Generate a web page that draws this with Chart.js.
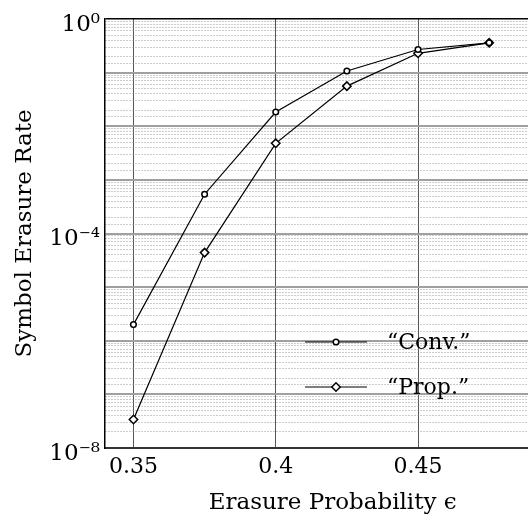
<!DOCTYPE html>
<html>
<head>
<meta charset="utf-8">
<script src="https://cdn.jsdelivr.net/npm/chart.js@4.4.1/dist/chart.umd.min.js"></script>
<style>
    html, body { margin: 0; padding: 0; background: #fff; overflow: hidden; }
    #wrap { width: 566px; height: 517px; }
</style>
</head>
<body>
<div id="wrap"><canvas id="plot"></canvas></div>
<script>
// Erasure probability (x) and symbol erasure rate for the two schemes
const epsilon = [0.35, 0.375, 0.4, 0.425, 0.45, 0.475];
const convRate = [2.0e-6, 5.4e-4, 1.84e-2, 0.107, 0.27, 0.36];
const propRate = [3.4e-8, 4.4e-5, 4.8e-3, 0.056, 0.229, 0.36];
const xTicks = [0.35, 0.4, 0.45];
const yLabelExps = [0, -4, -8];

const FONT = "'DejaVu Serif', serif";
const SUP = { '0': '\u2070', '4': '\u2074', '8': '\u2078', '-': '\u207B' };

function decadeExp(v) {
    const e = Math.log10(v);
    const r = Math.round(e);
    return Math.abs(e - r) < 1e-6 ? r : null;
}

// draws the in-plot legend (lower right) from the dataset styles
const insideLegend = {
    id: 'insideLegend',
    afterDatasetsDraw(chart) {
        const ctx = chart.ctx;
        const rows = [{ ds: chart.data.datasets[0], y: 342 }, { ds: chart.data.datasets[1], y: 387 }];
        ctx.save();
        rows.forEach(({ ds, y }) => {
            ctx.strokeStyle = ds.borderColor;
            ctx.lineWidth = ds.borderWidth;
            ctx.setLineDash([]);
            ctx.beginPath();
            ctx.moveTo(305, y);
            ctx.lineTo(367, y);
            ctx.stroke();
            ctx.fillStyle = ds.pointBackgroundColor;
            ctx.strokeStyle = ds.pointBorderColor;
            ctx.lineWidth = ds.pointBorderWidth;
            Chart.helpers.drawPoint(ctx, {
                pointStyle: ds.pointStyle,
                radius: ds.pointRadius,
                borderWidth: ds.pointBorderWidth
            }, 336, y);
            ctx.fillStyle = '#000';
            ctx.font = '22px ' + FONT;
            ctx.textBaseline = 'middle';
            ctx.fillText(ds.label, 387, y + 1);
        });
        ctx.restore();
    }
};

new Chart(document.getElementById('plot').getContext('2d'), {
    type: 'line',
    data: {
        labels: epsilon,
        datasets: [{
            label: '\u201CConv.\u201D',
            data: epsilon.map((x, i) => ({ x: x, y: convRate[i] })),
            borderColor: '#000',
            backgroundColor: '#fff',
            borderWidth: 1.2,
            pointStyle: 'circle',
            pointRadius: 2.8,
            pointBorderWidth: 1.5,
            pointBackgroundColor: '#fff',
            pointBorderColor: '#000',
            tension: 0
        }, {
            label: '\u201CProp.\u201D',
            data: epsilon.map((x, i) => ({ x: x, y: propRate[i] })),
            borderColor: '#000',
            backgroundColor: '#fff',
            borderWidth: 1.2,
            pointStyle: 'rectRot',
            pointRadius: 4.2,
            pointBorderWidth: 1.5,
            pointBackgroundColor: '#fff',
            pointBorderColor: '#000',
            tension: 0
        }]
    },
    options: {
        responsive: true,
        maintainAspectRatio: false,
        animation: false,
        layout: { padding: { top: 19, right: 2, left: 0, bottom: 0 } },
        plugins: {
            legend: { display: false },
            tooltip: { enabled: false }
        },
        scales: {
            x: {
                type: 'linear',
                min: 0.34,
                max: 0.50,
                afterBuildTicks: (scale) => { scale.ticks = xTicks.map(v => ({ value: v })); },
                afterFit: (scale) => { scale.height = 69; },
                ticks: {
                    color: '#000',
                    padding: 6,
                    font: { family: FONT, size: 22 },
                    callback: (v) => String(v)
                },
                grid: { color: '#555', lineWidth: 1, drawTicks: false },
                border: { color: '#333', width: 2 },
                title: {
                    display: true,
                    text: 'Erasure Probability \u03F5',
                    color: '#000',
                    font: { family: FONT, size: 23 },
                    padding: { top: 7, bottom: 0 }
                }
            },
            y: {
                type: 'logarithmic',
                min: 1e-8,
                max: 1,
                afterFit: (scale) => { scale.width = 105; },
                ticks: {
                    color: '#000',
                    padding: 5,
                    autoSkip: false,
                    labelOffset: 6,
                    font: { family: FONT, size: 23 },
                    callback: (v) => {
                        const e = decadeExp(v);
                        if (e === null || !yLabelExps.includes(e)) return '';
                        return '10' + String(e).split('').map(c => SUP[c]).join('');
                    }
                },
                grid: {
                    drawTicks: false,
                    color: (c) => {
                        if (!c.tick) return '#999';
                        const e = decadeExp(c.tick.value);
                        if (e === 0) return '#000';
                        return e === null ? '#999' : '#a0a0a0';
                    },
                    lineWidth: (c) => {
                        if (!c.tick) return 1;
                        const e = decadeExp(c.tick.value);
                        if (e === 0) return 1.5;
                        return e === null ? 1 : 2;
                    }
                },
                border: {
                    color: '#000',
                    width: 1.5,
                    dash: (c) => {
                        if (!c.tick) return [];
                        return decadeExp(c.tick.value) === null ? [1, 2] : [];
                    }
                },
                title: {
                    display: true,
                    text: 'Symbol Erasure Rate',
                    color: '#000',
                    font: { family: FONT, size: 23 },
                    padding: { top: 11, bottom: 0 }
                }
            }
        }
    },
    plugins: [insideLegend]
});
</script>
</body>
</html>
